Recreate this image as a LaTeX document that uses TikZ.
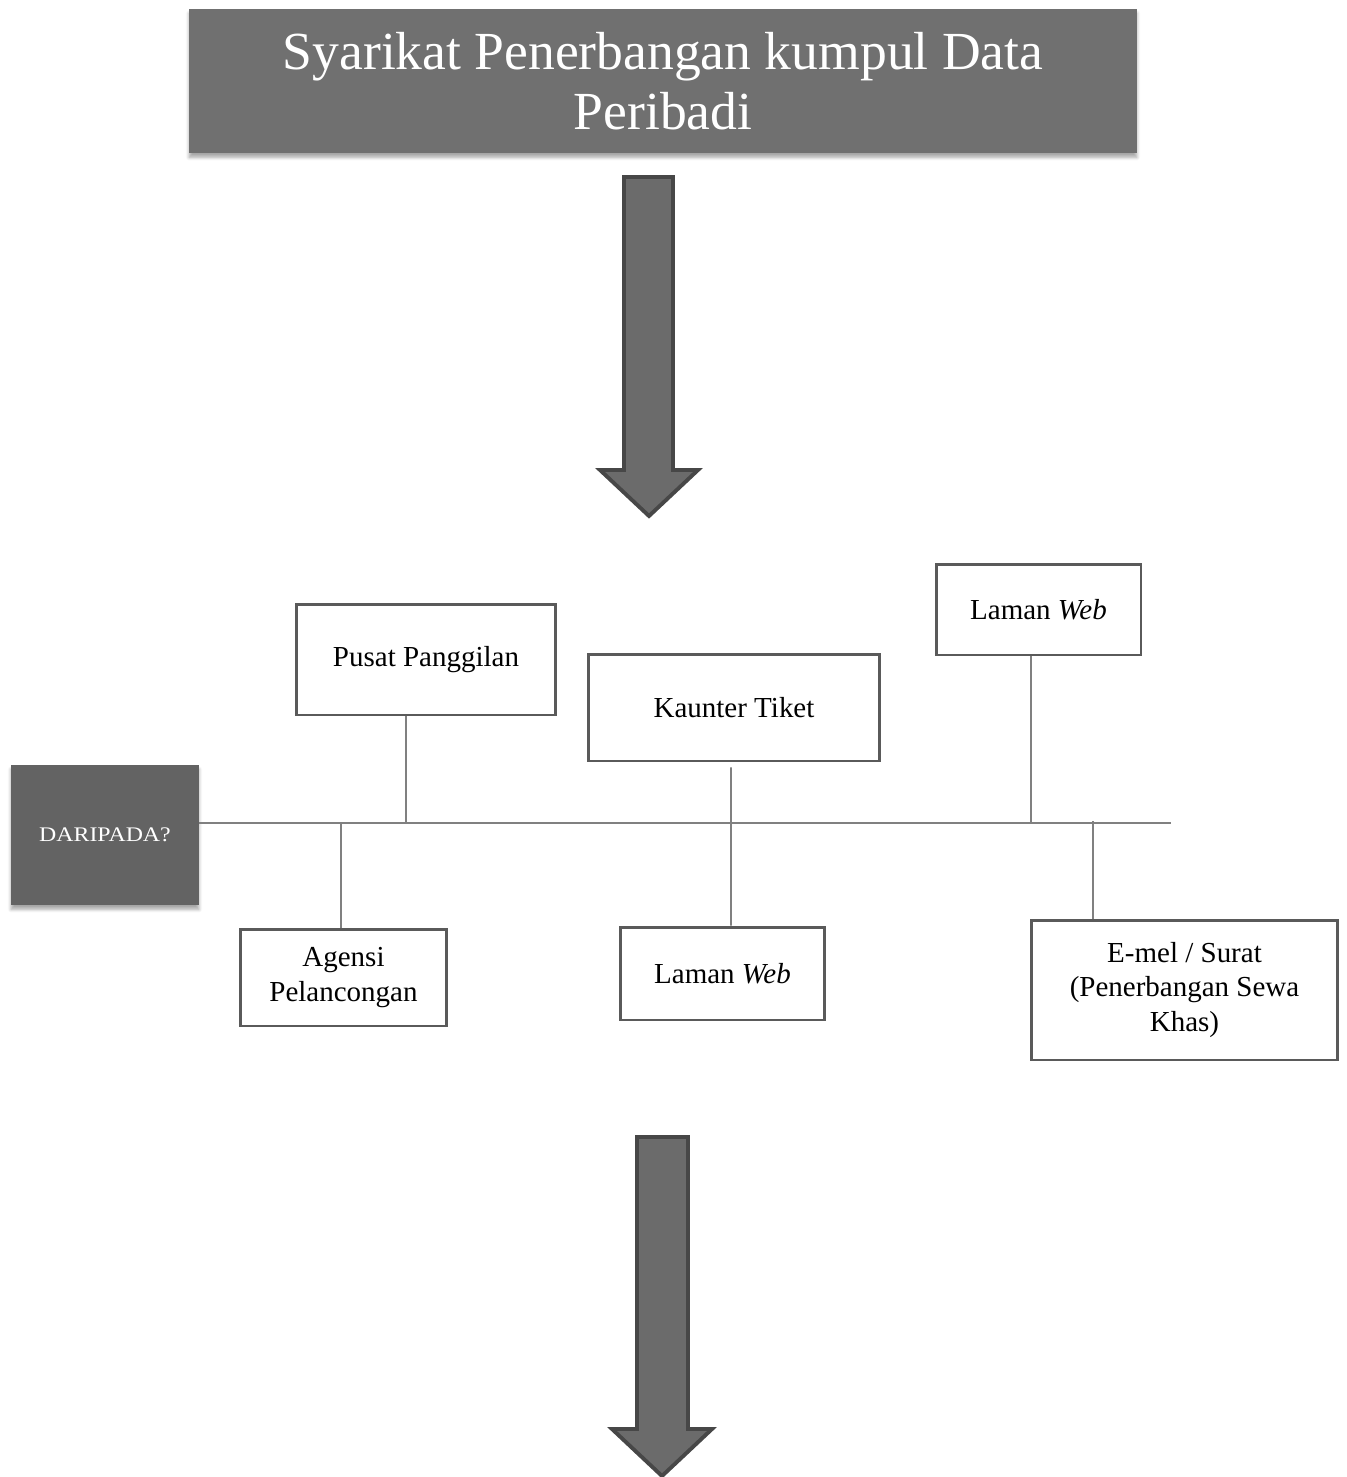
\documentclass[tikz,border=0pt]{standalone}
\usepackage{fontspec}
\setmainfont{Liberation Serif}
\usetikzlibrary{shadows.blur}
\definecolor{headfill}{HTML}{707070}
\definecolor{askfill}{HTML}{636363}
\definecolor{arrowfill}{HTML}{6B6B6B}
\definecolor{arrowedge}{HTML}{474747}
\definecolor{boxedge}{HTML}{5A5A5A}
\definecolor{linkgray}{HTML}{808080}
\tikzset{
  softshadow/.style={blur shadow={shadow xshift=0pt, shadow yshift=-2.5pt, shadow blur steps=6, shadow opacity=35}},
  headbox/.style={rectangle, fill=headfill, text=white, align=center, inner sep=0pt, softshadow,
    font=\fontsize{30.5}{34}\selectfont},
  askbox/.style={rectangle, fill=askfill, text=white, align=center, inner sep=0pt, softshadow,
    font=\fontsize{11.8}{13}\selectfont},
  chanbox/.style={rectangle, draw=boxedge, line width=1.7pt, fill=white, align=center, inner sep=0pt,
    font=\fontsize{16.5}{19.6}\selectfont},
  link/.style={draw=linkgray, line width=1.1pt},
  blockarrow/.style={fill=arrowfill, draw=arrowedge, line width=2.2pt, line join=miter},
}
\begin{document}
\begin{tikzpicture}[x=0.02cm, y=-0.02cm]
\useasboundingbox (0,0) rectangle (1346,1477);

% heading
\node[headbox, minimum width=18.96cm, minimum height=2.88cm] (head) at (663,81)
  {Syarikat Penerbangan kumpul Data\\Peribadi};

% upper block arrow
\path[blockarrow] (624,177) -- (673,177) -- (673,470) -- (698,470) -- (649,516)
  -- (600,470) -- (624,470) -- cycle;

% question box and spine
\node[askbox, minimum width=3.76cm, minimum height=2.8cm] (ask) at (105,835)
  {\raisebox{-1.5pt}{\scalebox{1.15}[1]{DARIPADA?}}};
\coordinate (spineEnd) at (1171,823);
\draw[link] (ask.east |- spineEnd) -- (spineEnd);

% channels above the spine
\node[chanbox, minimum width=5.2cm, minimum height=2.22cm] (pusat) at (426,659.5) {Pusat Panggilan};
\node[chanbox, minimum width=5.84cm, minimum height=2.14cm] (kaunter) at (734,707.5) {Kaunter Tiket};
\node[chanbox, minimum width=4.1cm, minimum height=1.82cm] (webA) at (1038.5,609.5) {Laman \textit{Web}};

% channels below the spine
\node[chanbox, minimum width=4.14cm, minimum height=1.94cm] (agensi) at (343.5,977.5) {Agensi\\Pelancongan};
\node[chanbox, minimum width=4.1cm, minimum height=1.86cm] (webB) at (722.5,973.5) {Laman \textit{Web}};
\node[chanbox, minimum width=6.14cm, minimum height=2.8cm] (emel) at (1184.5,990)
  {E-mel / Surat\\(Penerbangan Sewa\\Khas)};

% branches
\draw[link] ([xshift=-0.4cm]pusat.south) -- ([xshift=-0.4cm]pusat.south |- spineEnd);
\draw[link] ([shift={(-0.06cm,-0.1cm)}]kaunter.south) -- ([xshift=0.17cm]webB.north);
\draw[link] ([xshift=-0.15cm]webA.south) -- ([xshift=-0.15cm]webA.south |- spineEnd);
\draw[link] ([xshift=-0.05cm]agensi.north |- spineEnd) -- ([xshift=-0.05cm]agensi.north);
\draw[link] ([shift={(-1.83cm,0.04cm)}]emel.north |- spineEnd) -- ([xshift=-1.83cm]emel.north);

% lower block arrow
\path[blockarrow] (637,1137) -- (688,1137) -- (688,1429) -- (712,1429) -- (662,1476)
  -- (612,1429) -- (637,1429) -- cycle;
\end{tikzpicture}
\end{document}
